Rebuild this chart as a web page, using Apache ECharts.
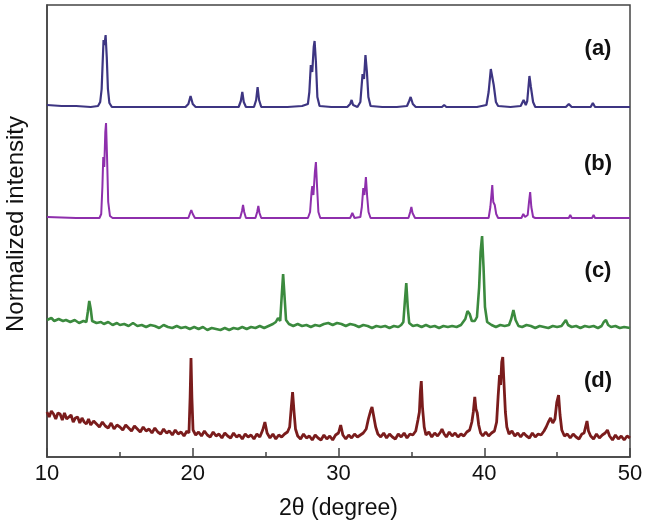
<!DOCTYPE html>
<html>
<head>
<meta charset="utf-8">
<script src="https://cdn.jsdelivr.net/npm/echarts@6/dist/echarts.min.js"></script>
<style>
html,body{margin:0;padding:0;background:#fff;}
#chart{width:646px;height:527px;}
</style>
</head>
<body>
<div id="chart"></div>
<script>
// x range / ticks
const xTicks = [10, 20, 30, 40, 50]
const names = ['(a)', '(b)', '(c)', '(d)']
const colors = ['#3d3582', '#8e2fac', '#3b8a3e', '#7a1c1c']

// stacked, normalized intensity (offset per pattern already included)
const patA = [
  [10,352],[11,351],[12,351],[13,350],[13.5,351],[13.65,355],[13.75,368],[13.82,395],[13.88,417],[13.95,412],[14.02,422],[14.1,400],[14.18,368],[14.28,354],[14.45,350],
  [16,350],[17,350],[18,350],[19.5,350],[19.7,353],[19.85,361],[20.0,353],[20.2,350],
  [21,350],[22,350],[23.15,350],[23.3,356],[23.4,365],[23.5,355],[23.65,350],[24.2,350],[24.35,357],[24.45,370],[24.55,357],[24.7,350],
  [25.5,350],[26.5,350],[27.5,351],[27.9,353],[28.0,365],[28.1,392],[28.2,385],[28.3,410],[28.36,416],[28.45,395],[28.55,360],[28.7,351],
  [29.5,350],[30.6,350],[30.8,353],[30.9,357],[31.0,352],[31.3,350],[31.5,355],[31.65,383],[31.75,378],[31.85,402],[31.95,385],[32.05,360],[32.2,351],
  [33,350],[34,350],[34.7,351],[34.85,356],[34.95,360],[35.1,353],[35.3,350],
  [36.5,350],[37.1,350],[37.25,352],[37.4,350],
  [38.5,350],[39.5,350],[40.15,352],[40.3,365],[40.45,388],[40.55,380],[40.65,372],[40.8,355],[40.95,351],
  [41.8,350],[42.5,351],[42.7,357],[42.85,352],[42.95,356],[43.1,381],[43.2,370],[43.25,371],[43.35,355],[43.5,350],
  [44.5,350],[45.6,350],[45.8,353],[46.0,350],[47.3,350],[47.45,354],[47.6,350],[49,350],[50,350]
]
const patB = [
  [10,240],[12,239],[13.6,239],[13.72,243],[13.8,270],[13.86,300],[13.93,290],[14.0,325],[14.05,334],[14.12,300],[14.2,255],[14.32,241],[14.5,239],
  [16,239],[18,239],[19.7,239],[19.82,244],[19.9,247],[20.0,243],[20.15,239],
  [23.25,239],[23.38,246],[23.45,252],[23.53,245],[23.65,239],[24.3,239],[24.42,245],[24.5,251],[24.58,244],[24.7,239],
  [26,239],[27.9,239],[28.05,245],[28.15,265],[28.2,271],[28.28,262],[28.38,285],[28.45,295],[28.53,270],[28.62,245],[28.75,239],
  [30.8,239],[30.95,244],[31.1,239],[31.5,240],[31.6,250],[31.7,269],[31.78,262],[31.88,280],[31.97,260],[32.06,245],[32.2,239],
  [34.8,239],[34.92,245],[35.0,250],[35.08,244],[35.25,239],[37.2,239],[37.3,241],[37.4,239],
  [40.3,239],[40.42,250],[40.55,272],[40.62,255],[40.72,252],[40.82,243],[40.95,239],
  [42.55,239],[42.68,243],[42.8,240],[42.98,242],[43.07,255],[43.15,265],[43.23,250],[43.35,240],[43.5,239],
  [45.8,239],[45.9,242],[46.0,239],[47.4,239],[47.5,242],[47.6,239],[50,239]
]
const patC = [
  [10,137],[10.3,139],[10.5,136],[10.8,138],[11.1,136],[11.3,137],[11.6,135],[11.9,137],[12.2,134],[12.5,136],[12.7,135],[12.8,145],[12.9,156],[13.0,148],[13.1,136],
  [13.4,134],[13.7,135],[13.9,133],[14.2,135],[14.5,132],[14.8,134],[15.0,132],[15.3,133],[15.6,131],[15.9,134],[16.2,131],[16.5,132],[16.8,130],[17.1,132],
  [17.4,131],[17.7,129],[18.0,132],[18.3,130],[18.6,129],[18.9,131],[19.2,129],[19.5,130],[19.8,128],[20.1,130],[20.4,128],[20.7,130],[21.0,127],[21.3,129],
  [21.6,128],[21.9,127],[22.2,129],[22.5,127],[22.8,129],[23.1,128],[23.4,130],[23.7,128],[24.0,130],[24.3,129],[24.6,131],[24.9,129],[25.2,131],
  [25.5,133],[25.7,135],[25.85,139],[26.0,136],[26.1,160],[26.2,183],[26.3,160],[26.4,137],[26.6,133],[26.9,131],[27.2,133],[27.5,131],[27.8,132],[28.1,130],
  [28.4,132],[28.7,131],[29.0,133],[29.3,134],[29.6,132],[29.9,134],[30.2,133],[30.5,131],[30.8,133],[31.1,132],[31.4,130],[31.7,132],[32.0,131],[32.3,129],
  [32.6,131],[32.9,130],[33.2,131],[33.5,129],[33.8,131],[34.1,130],[34.3,132],
  [34.45,135],[34.55,155],[34.65,174],[34.75,150],[34.85,134],[35.1,131],[35.4,132],[35.7,130],[36.0,132],[36.3,130],[36.6,131],[36.9,129],[37.2,131],[37.5,130],
  [37.8,131],[38.1,130],[38.4,132],[38.7,138],[38.85,146],[39.0,143],[39.15,136],[39.35,136],[39.5,140],[39.65,170],[39.75,205],[39.85,221],[39.95,190],[40.05,150],
  [40.2,135],[40.5,132],[40.8,130],[41.1,132],[41.4,131],[41.7,132],[41.85,138],[42.0,147],[42.15,137],[42.35,131],[42.6,130],[42.9,132],[43.2,131],[43.5,129],
  [43.8,131],[44.1,130],[44.4,129],[44.7,131],[45.0,130],[45.3,131],[45.45,134],[45.6,137],[45.75,132],[46.0,130],[46.3,131],[46.6,129],[46.9,131],[47.2,130],
  [47.5,131],[47.8,129],[48.05,131],[48.2,135],[48.35,137],[48.5,132],[48.7,130],[49.0,131],[49.3,129],[49.6,130],[50,129]
]
const patD = [
  [10,45],[10.15,40],[10.3,46],[10.45,43],[10.6,38],[10.75,44],[10.9,43],[11.05,37],[11.2,44],[11.35,38],[11.5,40],[11.65,42],[11.8,35],[11.95,39],[12.1,40],
  [12.25,34],[12.4,39],[12.55,35],[12.7,33],[12.85,38],[13.0,32],[13.2,36],[13.4,33],[13.6,30],[13.8,35],[14.0,31],[14.2,29],[14.4,34],[14.6,28],[14.8,32],
  [15.0,30],[15.2,27],[15.4,32],[15.6,29],[15.8,26],[16.0,31],[16.2,28],[16.4,25],[16.6,30],[16.8,26],[17.0,28],[17.2,24],[17.4,29],[17.6,25],[17.8,23],
  [18.0,28],[18.2,24],[18.4,26],[18.6,22],[18.8,27],[19.0,23],[19.2,25],[19.4,21],[19.6,26],[19.74,24],[19.82,60],[19.88,99],[19.94,60],[20.02,27],[20.2,22],
  [20.4,25],[20.6,21],[20.8,26],[21.0,22],[21.2,20],[21.4,25],[21.6,21],[21.8,23],[22.0,19],[22.2,24],[22.4,21],[22.6,19],[22.8,24],[23.0,20],[23.2,22],
  [23.4,18],[23.6,23],[23.8,20],[24.0,22],[24.2,18],[24.4,23],[24.6,20],[24.8,27],[24.95,35],[25.1,24],[25.3,19],[25.5,23],[25.7,18],[25.9,22],[26.1,20],
  [26.3,23],[26.5,25],[26.65,30],[26.75,48],[26.85,65],[26.95,45],[27.05,28],[27.2,21],[27.4,18],[27.6,23],[27.8,19],[28.0,21],[28.2,17],[28.4,22],[28.6,19],
  [28.8,17],[29.0,22],[29.2,18],[29.4,21],[29.6,17],[29.8,22],[30.0,24],[30.15,32],[30.3,22],[30.5,18],[30.7,22],[30.9,19],[31.1,23],[31.3,20],[31.5,22],
  [31.7,24],[31.9,28],[32.05,38],[32.2,46],[32.3,50],[32.4,42],[32.55,30],[32.7,23],[32.9,20],[33.1,24],[33.3,19],[33.5,23],[33.7,20],[33.9,18],[34.1,23],
  [34.3,20],[34.5,24],[34.7,19],[34.9,23],[35.1,22],[35.3,26],[35.45,37],[35.55,45],[35.62,66],[35.68,76],[35.76,50],[35.88,30],[36.0,22],[36.2,25],[36.4,20],
  [36.6,24],[36.8,21],[37.0,25],[37.1,28],[37.25,23],[37.4,20],[37.6,25],[37.8,21],[38.0,24],[38.2,20],[38.4,23],[38.6,21],[38.8,25],[39.0,27],[39.15,35],
  [39.25,45],[39.35,60],[39.43,48],[39.52,44],[39.62,32],[39.75,24],[39.9,21],[40.1,25],[40.3,21],[40.5,24],[40.7,26],[40.85,35],[40.95,60],[41.05,82],
  [41.12,72],[41.2,95],[41.27,100],[41.35,75],[41.45,45],[41.55,30],[41.7,23],[41.9,26],[42.1,21],[42.3,24],[42.5,20],[42.7,24],[42.9,21],[43.1,19],[43.3,24],
  [43.5,20],[43.7,23],[43.9,22],[44.1,26],[44.25,30],[44.4,35],[44.55,39],[44.7,34],[44.85,38],[44.98,55],[45.1,62],[45.2,42],[45.32,27],[45.5,21],[45.7,23],
  [45.9,19],[46.1,23],[46.3,20],[46.5,18],[46.7,23],[46.85,24],[46.95,30],[47.05,36],[47.15,26],[47.3,21],[47.5,18],[47.7,23],[47.9,19],[48.1,22],[48.3,24],
  [48.45,27],[48.6,21],[48.8,17],[49.0,22],[49.2,18],[49.4,21],[49.6,17],[49.8,21],[50,19]
]
const patterns = [patA, patB, patC, patD]
const widths = [2.2, 2, 2.6, 2.8]

const chart = echarts.init(document.getElementById('chart'))
const font = 'Liberation Sans, Arial, sans-serif'

const option = {
  animation: false,
  backgroundColor: '#fff',
  grid: {
    left: 47, right: 16, top: 5, bottom: 70,
    show: true, borderColor: '#444', borderWidth: 1.5
  },
  xAxis: {
    type: 'value',
    min: xTicks[0],
    max: xTicks[xTicks.length - 1],
    interval: 10,
    name: '2θ (degree)',
    nameLocation: 'middle',
    nameGap: 40,
    nameTextStyle: { fontFamily: font, fontSize: 23, color: '#111' },
    axisLine: { show: true, lineStyle: { color: '#444', width: 1.5 } },
    axisTick: { show: true, inside: true, length: 9, lineStyle: { color: '#444', width: 1.5 } },
    minorTick: { show: true, splitNumber: 2, length: 5, lineStyle: { color: '#444', width: 1.5 } },
    axisLabel: { fontFamily: font, fontSize: 22, color: '#111', margin: 6 },
    splitLine: { show: false }
  },
  yAxis: {
    type: 'value',
    min: 0,
    max: 452,
    axisLine: { show: true, lineStyle: { color: '#444', width: 1.5 } },
    axisTick: { show: false },
    axisLabel: { show: false },
    splitLine: { show: false }
  },
  series: patterns.map((p, i) => ({
    name: names[i],
    type: 'line',
    data: p,
    symbol: 'none',
    smooth: false,
    lineStyle: { color: colors[i], width: widths[i] }
  })),
  graphic: [
    {
      type: 'text',
      x: 16, y: 224,
      rotation: Math.PI / 2,
      style: {
        text: 'Normalized intensity', font: '24px ' + font, fill: '#111',
        textAlign: 'center', textVerticalAlign: 'middle'
      }
    }
  ].concat(names.map((n, i) => ({
    type: 'text',
    x: 598,
    y: [49, 164, 271, 381][i],
    style: {
      text: n, font: 'bold 22px ' + font, fill: '#111',
      textAlign: 'center', textVerticalAlign: 'middle'
    }
  })))
}
chart.setOption(option)
</script>
</body>
</html>
